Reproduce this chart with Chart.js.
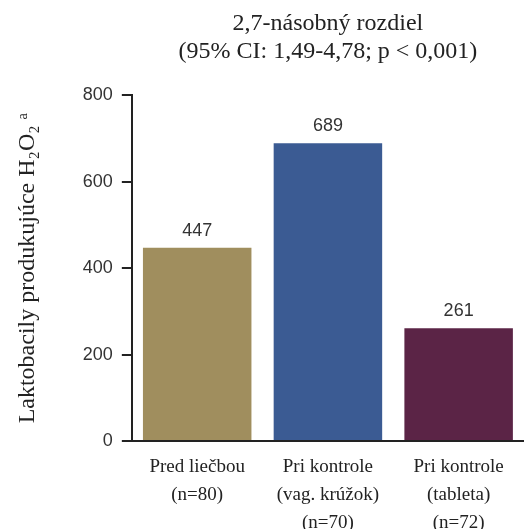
<!DOCTYPE html>
<html>
<head>
<meta charset="utf-8">
<script src="https://cdn.jsdelivr.net/npm/chart.js@4"></script>
<style>
  html,body{margin:0;padding:0;background:#fff;}
  #wrap{width:524px;height:529px;position:relative;}
</style>
</head>
<body>
<div id="wrap"><canvas id="c" width="524" height="529"></canvas></div>
<script>
// data
const categories = [
  ['Pred liečbou', '(n=80)'],
  ['Pri kontrole', '(vag. krúžok)', '(n=70)'],
  ['Pri kontrole', '(tableta)', '(n=72)']
];
const values = [447, 689, 261];
const barColors = ['#a08e5e', '#3b5b93', '#5b2446'];
const yTicks = [0, 200, 400, 600, 800];
const titleLines = ['2,7-násobný rozdiel', '(95% CI: 1,49-4,78; p < 0,001)'];
const yTitle = 'Laktobacily produkujúce H₂O₂ ᵃ';

const serif = '"Liberation Serif", "DejaVu Serif", serif';
const sans = '"Liberation Sans", Arial, sans-serif';

// numbers above bars
const valueLabels = {
  id: 'valueLabels',
  afterDatasetsDraw(chart){
    const {ctx} = chart;
    const meta = chart.getDatasetMeta(0);
    ctx.save();
    ctx.font = '18px ' + sans;
    ctx.fillStyle = '#333';
    ctx.textAlign = 'center';
    ctx.textBaseline = 'alphabetic';
    meta.data.forEach((bar, i) => {
      ctx.fillText(String(values[i]), bar.x, bar.y - 12);
    });
    ctx.restore();
  }
};

new Chart(document.getElementById('c').getContext('2d'), {
  type: 'bar',
  data: {
    labels: categories,
    datasets: [{
      data: values,
      backgroundColor: barColors,
      borderWidth: 0,
      barPercentage: 0.83,
      categoryPercentage: 1
    }]
  },
  options: {
    responsive: false,
    animation: false,
    layout: { padding: { top: 10, right: 0, left: 9, bottom: 0 } },
    plugins: {
      legend: { display: false },
      tooltip: { enabled: false },
      title: {
        display: true,
        text: titleLines,
        fullSize: false,
        color: '#222',
        font: { family: serif, size: 24, weight: 'normal', lineHeight: 1.15 },
        padding: { top: 0, bottom: 30 }
      }
    },
    scales: {
      y: {
        min: 0,
        max: 800,
        afterBuildTicks: axis => { axis.ticks = yTicks.map(v => ({value: v})); },
        grid: { drawOnChartArea: false, tickLength: 10, color: '#222', lineWidth: 2 },
        border: { display: true, color: '#222', width: 2 },
        ticks: { color: '#333', font: { family: sans, size: 18 }, padding: 9 },
        title: {
          display: true,
          text: yTitle,
          color: '#222',
          font: { family: serif, size: 24 },
          padding: { top: 4, bottom: 32 }
        }
      },
      x: {
        grid: { display: false },
        border: { display: true, color: '#222', width: 2 },
        afterFit: axis => { axis.height = 88; },
        ticks: { color: '#222', font: { family: serif, size: 19, lineHeight: 1.47 }, padding: 4, maxRotation: 0, autoSkip: false }
      }
    }
  },
  plugins: [valueLabels]
});
</script>
</body>
</html>
